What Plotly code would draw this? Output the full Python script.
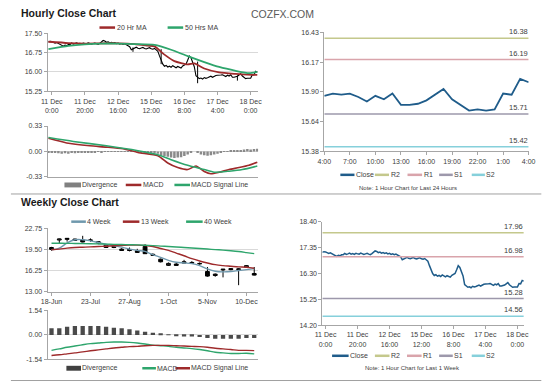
import plotly.graph_objects as go

W, H = 560, 385

# ======================= DATA =======================
# Hourly close (index 0 = 11 Dec 0:00, one point per trading hour)
hour_first = -2
hourly_close = [
    17.16, 17.19,
    17.18, 17.15, 17.12, 17.14, 17.10, 17.08, 17.03, 17.00, 17.04, 17.02, 17.06,
    17.06, 17.12, 17.08, 17.10, 17.13, 17.09, 17.11, 17.08, 17.12, 17.10,
    17.09, 17.13, 17.11, 17.08, 17.10, 17.12, 17.09, 17.07, 17.11, 17.16,
    17.22, 17.20, 17.15, 17.17, 17.13, 17.15, 17.12, 17.14, 17.10, 17.12,
    17.08, 17.10, 17.07, 17.09, 17.05, 17.02, 16.98, 16.86, 16.90, 16.94,
    16.96, 16.92, 16.90, 16.93, 16.95, 16.91, 16.89, 16.92, 16.94, 16.90,
    16.88, 16.91, 16.87, 16.80, 16.62, 16.45, 16.30, 16.22, 16.25, 16.19,
    16.22, 16.18, 16.24, 16.20, 16.16, 16.21, 16.18, 16.15, 16.23, 16.26,
    16.30, 16.45, 16.62, 16.55, 16.40, 16.20, 15.85, 15.78, 15.74, 15.76,
    15.72, 15.78, 15.75, 15.77, 15.80, 15.83, 15.79, 15.84, 15.86,
    15.87, 15.89, 15.88, 15.89, 15.86, 15.82, 15.87, 15.84, 15.89, 15.79,
    15.79, 15.80, 15.83, 15.88, 15.93, 15.84, 15.79, 15.74, 15.75, 15.74,
    15.75, 15.89, 15.88, 16.02, 15.99,
]
hour_tick_vals = [0, 20, 40, 60, 80, 100, 120]
hour_tick_text = ["11 Dec<br>0:00", "11 Dec<br>20:00", "12 Dec<br>16:00", "15 Dec<br>12:00",
                  "16 Dec<br>8:00", "17 Dec<br>4:00", "18 Dec<br>0:00"]

# hourly high/low wicks visible on the bar chart
wick_hours = [49, 66, 88, 112]
wick_high = [16.95, 16.88, 16.40, 15.86]
wick_low = [16.78, 16.30, 15.56, 15.66]

ma20_hours = [-2, 10, 20, 30, 40, 50, 58, 62, 68, 74, 82, 86, 92, 101, 111, 118, 124]
ma20_values = [17.17, 17.12, 17.10, 17.11, 17.11, 17.08, 17.02, 16.99, 16.67, 16.42, 16.29, 16.33, 16.13, 15.98, 15.92, 15.89, 15.88]
ma50_hours = [-2, 10, 20, 30, 40, 50, 62, 72, 82, 92, 101, 111, 119, 124]
ma50_values = [16.88, 17.01, 17.07, 17.10, 17.10, 17.08, 17.05, 16.86, 16.61, 16.38, 16.19, 16.04, 15.95, 16.00]

macd_hours = [-2, 9, 23, 33, 43, 52, 64, 70, 76, 82, 87, 92, 96, 101, 107, 113, 119, 124]
macd_values = [0.17, 0.11, 0.073, 0.056, 0.034, -0.013, -0.056, -0.15, -0.21, -0.236, -0.19, -0.26, -0.29, -0.27, -0.236, -0.21, -0.18, -0.14]
signal_hours = [-2, 13, 33, 52, 64, 72, 82, 92, 98, 107, 115, 124]
signal_values = [0.18, 0.13, 0.073, 0.009, -0.043, -0.107, -0.18, -0.236, -0.27, -0.257, -0.236, -0.19]
div_first, div_step = -2, 2
div_values = [
    -0.01, -0.015, -0.02, -0.025, -0.03, -0.025, -0.03, -0.02, -0.025, -0.02, -0.015,
    -0.015, -0.01, -0.012, -0.01, -0.008, -0.01, -0.005, -0.008, -0.005, -0.003, -0.005, -0.004, -0.003, -0.006, -0.005,
    -0.008, -0.01, -0.012, -0.01, -0.015, -0.02, -0.025, -0.03,
    -0.045, -0.06, -0.07, -0.08, -0.085, -0.08, -0.075, -0.06, -0.04, -0.02,
    0.0, -0.02, -0.04, -0.05, -0.055, -0.05, -0.04, -0.03,
    -0.015, -0.005, 0.005, 0.01, 0.015, 0.02, 0.02, 0.025, 0.03, 0.025, 0.03, 0.035,
]

last24_labels = ["4:00", "7:00", "10:00", "13:00", "16:00", "19:00", "22:00", "1:00", "4:00"]
levels_24h = {"R2": 16.38, "R1": 16.19, "S1": 15.71, "S2": 15.42}
levels_week = {"R2": 17.96, "R1": 16.98, "S1": 15.28, "S2": 14.56}

# Weekly
week_labels = ["18-Jun", "23-Jul", "27-Aug", "1-Oct", "5-Nov", "10-Dec"]
week_open = [19.5, 20.95, 21.05, 21.1, 20.95, 20.9, 20.7, 19.8, 20.0, 19.55, 19.5, 19.3, 19.95, 18.75,
             18.0, 17.05, 17.25, 17.4, 17.5, 17.35, 16.1, 15.7, 16.35, 16.55, 16.4, 16.8, 15.8]
week_high = [19.9, 21.15, 21.25, 21.15, 21.6, 21.2, 20.8, 20.3, 20.1, 19.7, 19.8, 19.6, 20.3, 18.9,
             18.1, 17.5, 17.4, 17.9, 17.7, 17.5, 16.8, 15.8, 16.5, 16.6, 16.6, 17.1, 16.8]
week_low = [19.3, 20.4, 20.7, 20.85, 20.6, 20.7, 20.4, 19.75, 19.7, 19.3, 19.2, 19.0, 18.8, 18.5,
            17.5, 16.95, 17.0, 17.35, 17.3, 17.15, 15.3, 15.3, 15.2, 16.3, 14.0, 16.7, 15.5]
week_close = [19.8, 21.1, 21.2, 20.9, 20.65, 20.95, 20.5, 20.2, 19.8, 19.35, 19.35, 19.05, 18.85, 18.6,
              17.6, 17.35, 17.05, 17.6, 17.4, 17.3, 15.4, 15.5, 16.45, 16.4, 16.5, 17.0, 15.55]
ma4_week = [19.45, 19.7, 20.5, 21.0, 21.0, 20.82, 20.57, 20.31, 20.06, 19.85, 19.55, 19.35, 19.2, 18.69,
            18.28, 17.82, 17.52, 17.42, 17.32, 17.01, 16.5, 16.15, 16.05, 16.1, 16.25, 16.4, 16.55]
ma13_week = [19.45, 19.55, 19.7, 19.8, 19.85, 19.9, 19.96, 20.0, 20.06, 20.11, 20.16, 20.16, 20.11, 19.96,
             19.65, 19.35, 18.94, 18.53, 18.08, 17.72, 17.42, 17.16, 17.01, 16.91, 16.81, 16.76, 16.6]
ma40_week = [20.46, 20.45, 20.44, 20.42, 20.40, 20.38, 20.35, 20.32, 20.29, 20.26, 20.23, 20.20, 20.15, 20.09,
             20.02, 19.95, 19.88, 19.80, 19.72, 19.64, 19.56, 19.48, 19.40, 19.30, 19.18, 19.02, 18.85]
wmacd = [-0.97, -0.88, -0.78, -0.70, -0.62, -0.55, -0.51, -0.47, -0.45, -0.45, -0.47, -0.51, -0.57, -0.64,
         -0.68, -0.72, -0.78, -0.82, -0.86, -0.92, -1.0, -1.09, -1.13, -1.17, -1.17, -1.15, -1.19]
wsignal = [-1.29, -1.25, -1.19, -1.13, -1.07, -1.0, -0.94, -0.88, -0.82, -0.78, -0.74, -0.72, -0.68, -0.66,
           -0.66, -0.66, -0.68, -0.70, -0.72, -0.74, -0.78, -0.84, -0.88, -0.92, -0.97, -0.97, -0.99]
wdiv = [0.41, 0.41, 0.51, 0.55, 0.55, 0.55, 0.55, 0.51, 0.45, 0.41, 0.35, 0.27, 0.2, 0.14, 0.06, 0.01,
        -0.05, -0.1, -0.1, -0.14, -0.2, -0.25, -0.25, -0.25, -0.25, -0.2, -0.2]

# ======================= STYLE =======================
FONT = "Liberation Sans, Arial, sans-serif"
TXT = "#404040"
AX = "#a6a6a6"
GRID = "#d9d9d9"
RED = "#9e2a2b"
GREEN = "#2ea56c"
BLUE = "#1f5c8a"
WK4 = "#6f98ad"
LVL_COL = {"R2": "#c4c88c", "R1": "#d9a4ab", "S1": "#9d98ab", "S2": "#86d0db"}


def fx(px):
    return px / W


def fy(py):
    return 1 - py / H


def dom_x(a, b):
    return [fx(a), fx(b)]


def dom_y(top, bottom):
    return [fy(bottom), fy(top)]


fig = go.Figure()

hours = list(range(hour_first, hour_first + len(hourly_close)))

# ---- top-left: hourly price ----
fig.add_trace(go.Scatter(x=hours, y=hourly_close, mode="lines", line=dict(color="black", width=1.1),
                         xaxis="x", yaxis="y"))
wx, wy = [], []
for h, hi, lo in zip(wick_hours, wick_high, wick_low):
    wx += [h, h, None]
    wy += [hi, lo, None]
fig.add_trace(go.Scatter(x=wx, y=wy, mode="lines", line=dict(color="black", width=1), xaxis="x", yaxis="y"))
fig.add_trace(go.Scatter(x=ma20_hours, y=ma20_values, mode="lines",
                         line=dict(color=RED, width=1.8, shape="spline", smoothing=0.6), xaxis="x", yaxis="y"))
fig.add_trace(go.Scatter(x=ma50_hours, y=ma50_values, mode="lines",
                         line=dict(color=GREEN, width=1.8, shape="spline", smoothing=0.6), xaxis="x", yaxis="y"))

# ---- top-left: hourly MACD ----
div_x = [div_first + i * div_step for i in range(len(div_values))]
fig.add_trace(go.Bar(x=div_x, y=div_values, width=1.5, marker=dict(color="#8a8a8a", line=dict(width=0)),
                     xaxis="x2", yaxis="y2"))
fig.add_trace(go.Scatter(x=macd_hours, y=macd_values, mode="lines",
                         line=dict(color=RED, width=1.6, shape="spline", smoothing=0.6), xaxis="x2", yaxis="y2"))
fig.add_trace(go.Scatter(x=signal_hours, y=signal_values, mode="lines",
                         line=dict(color=GREEN, width=1.6, shape="spline", smoothing=0.6), xaxis="x2", yaxis="y2"))

# ---- top-right: last 24 hours ----
close24 = hourly_close[-25:]
fig.add_trace(go.Scatter(x=list(range(len(close24))), y=close24, mode="lines", line=dict(color=BLUE, width=1.8),
                         xaxis="x3", yaxis="y3"))
for name, v in levels_24h.items():
    fig.add_trace(go.Scatter(x=[0, 24], y=[v, v], mode="lines", line=dict(color=LVL_COL[name], width=1.5),
                             xaxis="x3", yaxis="y3"))

# ---- bottom-left: weekly ----
weeks = list(range(len(week_close)))
fig.add_trace(go.Candlestick(x=weeks, open=week_open, high=week_high, low=week_low, close=week_close,
                             increasing=dict(line=dict(color="black", width=1), fillcolor="white"),
                             decreasing=dict(line=dict(color="black", width=1), fillcolor="black"),
                             whiskerwidth=0, xaxis="x4", yaxis="y4"))
fig.add_trace(go.Scatter(x=weeks, y=ma4_week, mode="lines", line=dict(color=WK4, width=1.4, shape="spline"),
                         xaxis="x4", yaxis="y4"))
fig.add_trace(go.Scatter(x=weeks, y=ma13_week, mode="lines", line=dict(color=RED, width=1.4, shape="spline"),
                         xaxis="x4", yaxis="y4"))
fig.add_trace(go.Scatter(x=weeks, y=ma40_week, mode="lines", line=dict(color=GREEN, width=1.4, shape="spline"),
                         xaxis="x4", yaxis="y4"))

# ---- bottom-left: weekly MACD ----
fig.add_trace(go.Bar(x=weeks, y=wdiv, width=0.55, marker=dict(color="#4a4a4a", line=dict(width=0)),
                     xaxis="x5", yaxis="y5"))
fig.add_trace(go.Scatter(x=weeks, y=wmacd, mode="lines", line=dict(color=GREEN, width=1.4, shape="spline"),
                         xaxis="x5", yaxis="y5"))
fig.add_trace(go.Scatter(x=weeks, y=wsignal, mode="lines", line=dict(color=RED, width=1.4, shape="spline"),
                         xaxis="x5", yaxis="y5"))

# ---- bottom-right: last week hourly ----
fig.add_trace(go.Scatter(x=hours, y=hourly_close, mode="lines", line=dict(color=BLUE, width=1.5),
                         xaxis="x6", yaxis="y6"))
for name, v in levels_week.items():
    fig.add_trace(go.Scatter(x=[hours[0], hours[-1]], y=[v, v], mode="lines",
                             line=dict(color=LVL_COL[name], width=1.5), xaxis="x6", yaxis="y6"))

# ======================= AXES =======================
tickfont = dict(size=7, color=TXT, family=FONT)


def yax(dom, rng, anchor, grid, **kw):
    d = dict(domain=dom, range=rng, anchor=anchor, showline=True, linecolor=AX, linewidth=1,
             ticks="outside", ticklen=3, tickcolor=AX, tickfont=tickfont, showgrid=grid,
             gridcolor=GRID, gridwidth=1, zeroline=False, fixedrange=True)
    d.update(kw)
    return d


def xax(dom, rng, anchor, **kw):
    d = dict(domain=dom, range=rng, anchor=anchor, showline=True, linecolor=AX, linewidth=1,
             ticks="outside", ticklen=3, tickcolor=AX, tickfont=tickfont, showgrid=False,
             zeroline=False, fixedrange=True)
    d.update(kw)
    return d


TL_X = dom_x(40.7, 257)
layout_axes = dict(
    xaxis=xax(TL_X, [-2.5, 124.5], "y", tickmode="array", tickvals=hour_tick_vals, ticktext=hour_tick_text),
    yaxis=yax(dom_y(29.8, 88.8), [15.25, 17.5], "x", True, tick0=15.25, dtick=0.75, tickformat=".2f"),
    xaxis2=xax(TL_X, [-2.5, 124.5], "y2", showticklabels=False, ticks=""),
    yaxis2=yax(dom_y(124.3, 176), [-0.33, 0.33], "x2", True, tickmode="array",
               tickvals=[-0.33, 0, 0.33], ticktext=["-0.33", "0.00", "0.33"]),
    xaxis3=xax(dom_x(325, 535), [0, 24], "y3", tickmode="array", tickvals=list(range(0, 25, 3)),
               ticktext=last24_labels),
    yaxis3=yax(dom_y(29, 150), [15.38, 16.43], "x3", False, tickmode="array",
               tickvals=[15.38, 15.6425, 15.905, 16.1675, 16.43],
               ticktext=["15.38", "15.64", "15.90", "16.17", "16.43"]),
    xaxis4=xax(TL_X, [-0.5, 26.5], "y4", tickmode="array", tickvals=[0, 5, 10, 15, 20, 25],
               ticktext=week_labels, rangeslider=dict(visible=False)),
    yaxis4=yax(dom_y(228.5, 293), [13, 22.75], "x4", True, tick0=13, dtick=3.25, tickformat=".2f"),
    xaxis5=xax(TL_X, [-0.5, 26.5], "y5", showticklabels=False, ticks=""),
    yaxis5=yax(dom_y(312, 362), [-1.54, 1.54], "x5", True, tickmode="array",
               tickvals=[-1.54, 0, 1.54], ticktext=["-1.54", "0.00", "1.54"]),
    xaxis6=xax(dom_x(323, 530), [-2, 124], "y6", tickmode="array", tickvals=hour_tick_vals,
               ticktext=hour_tick_text),
    yaxis6=yax(dom_y(222, 327), [14.2, 18.4], "x6", False, tick0=14.2, dtick=1.05, tickformat=".2f"),
)

# ======================= ANNOTATIONS / LEGENDS =======================
shapes = []
annotations = []


def text(x, y, s, size=7, anchor="left", color=TXT, bold=False, xref="paper", yref="paper", yanchor="middle"):
    annotations.append(dict(x=fx(x) if xref == "paper" else x, y=fy(y) if yref == "paper" else y,
                            xref=xref, yref=yref, text=("<b>%s</b>" % s) if bold else s, showarrow=False,
                            xanchor=anchor, yanchor=yanchor,
                            font=dict(size=size, color=color, family=FONT), borderpad=0))


def leg_line(x0, x1, y, color, width=2.5):
    shapes.append(dict(type="line", xref="paper", yref="paper", x0=fx(x0), x1=fx(x1), y0=fy(y), y1=fy(y),
                       line=dict(color=color, width=width)))


def leg_box(x0, x1, y, color):
    shapes.append(dict(type="rect", xref="paper", yref="paper", x0=fx(x0), x1=fx(x1), y0=fy(y + 2.5),
                       y1=fy(y - 2.5), line=dict(width=0), fillcolor=color))


# titles
text(12, 9.5, "Hourly Close Chart", size=10.5, bold=True, color="#1a1a1a")
text(12, 202, "Weekly Close Chart", size=10.5, bold=True, color="#1a1a1a")
text(282, 10, "COZFX.COM", size=10.5, anchor="center", color="#5a5a5a")

# separators
shapes.append(dict(type="line", xref="paper", yref="paper", x0=fx(3), x1=fx(548), y0=fy(193.5), y1=fy(193.5),
                   line=dict(color="#a0a0a0", width=1)))
shapes.append(dict(type="line", xref="paper", yref="paper", x0=fx(3), x1=fx(548), y0=fy(383.5), y1=fy(383.5),
                   line=dict(color="#a0a0a0", width=1)))

# top-left legends
leg_line(94, 110, 24, RED)
text(110.5, 24, "20 Hr MA")
leg_line(164, 180, 24, GREEN)
text(180.5, 24, "50 Hrs MA")
leg_box(58, 75, 184.3, "#808080")
text(75, 184.3, "Divergence")
leg_line(121, 137, 184.3, RED)
text(137.5, 184.3, "MACD")
leg_line(171, 187, 184.3, GREEN)
text(187.5, 184.3, "MACD Signal Line")

# top-right legend
leg_line(341.5, 356, 174, BLUE)
text(356.5, 174, "Close")
leg_line(377, 391.5, 174, LVL_COL["R2"])
text(392, 174, "R2")
leg_line(410.5, 425.5, 174, LVL_COL["R1"])
text(426, 174, "R1")
leg_line(443, 457, 174, LVL_COL["S1"])
text(457.5, 174, "S1")
leg_line(476.5, 490, 174, LVL_COL["S2"])
text(490.5, 174, "S2")
text(411, 187, "Note: 1 Hour Chart for Last 24 Hours", size=6, anchor="center")

# bottom-left legends
leg_line(65, 80, 221.7, WK4)
text(80.5, 221.7, "4 Week")
leg_line(118, 135, 221.7, RED)
text(135.5, 221.7, "13 Week")
leg_line(183, 200, 221.7, GREEN)
text(200.5, 221.7, "40 Week")
leg_box(60, 75, 371, "#404040")
text(75, 371, "Divergence")
leg_line(138, 152, 371, GREEN)
text(152.5, 371, "MACD")
leg_line(172, 187, 371, RED)
text(187.5, 371, "MACD Signal Line")

# bottom-right legend
leg_line(333, 350, 358.3, BLUE)
text(350.5, 358.3, "Close")
leg_line(377, 392, 358.3, LVL_COL["R2"])
text(392.5, 358.3, "R2")
leg_line(410, 425, 358.3, LVL_COL["R1"])
text(425.5, 358.3, "R1")
leg_line(443, 457, 358.3, LVL_COL["S1"])
text(457.5, 358.3, "S1")
leg_line(476.5, 490, 358.3, LVL_COL["S2"])
text(490.5, 358.3, "S2")
text(416, 371, "Note: 1 Hour Chart for Last 1 Week", size=6, anchor="center")

# level labels
for name, v in levels_24h.items():
    text(24, v, "%.2f" % v, size=7.5, anchor="right", xref="x3", yref="y3", yanchor="bottom")
for name, v in levels_week.items():
    text(hours[-1], v, "%.2f" % v, size=7.5, anchor="right", xref="x6", yref="y6", yanchor="bottom")

for a in annotations:
    if a["yanchor"] == "bottom":
        a["yshift"] = 1

fig.update_layout(
    width=W, height=H, margin=dict(l=0, r=0, t=0, b=0),
    paper_bgcolor="white", plot_bgcolor="white",
    showlegend=False, font=dict(family=FONT, color=TXT),
    shapes=shapes, annotations=annotations, **layout_axes,
)

fig.write_html("out.html", config={"displayModeBar": False},
               post_script="document.body.style.margin='0px';document.body.style.overflow='hidden';")
